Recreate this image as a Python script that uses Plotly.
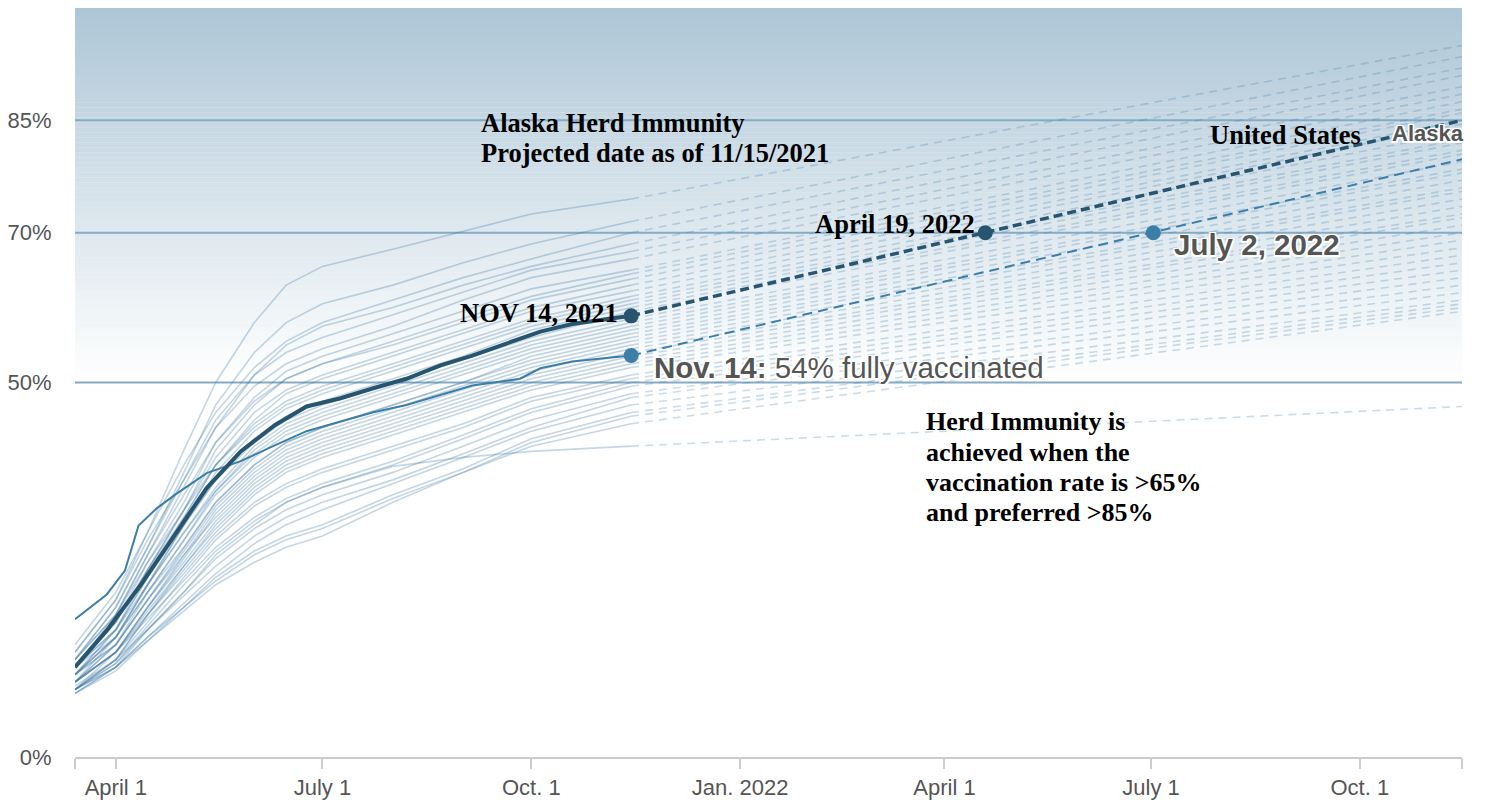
import plotly.graph_objects as go

# ---------------- data ----------------
bg_dates = ["2021-03-14", "2021-04-01", "2021-04-15", "2021-05-01", "2021-05-15", "2021-06-01",
            "2021-06-15", "2021-07-01", "2021-08-01", "2021-09-01", "2021-10-01", "2021-11-14"]
proj_start_date = "2021-11-14"
proj_end_date = "2022-11-15"

# other states, % fully vaccinated at bg_dates
state_values = [
    [14, 21, 30, 41, 50, 58, 63, 65.5, 67.8, 70.2, 72.5, 74.5],
    [13, 20, 28, 38, 47, 54, 58, 60.5, 63, 66, 68.5, 71.5],
    [15, 22, 30, 39, 46, 52, 55.5, 58, 61, 64, 66.5, 70],
    [12, 19, 27, 36, 44, 51, 55, 57.5, 60, 63, 65.5, 68.5],
    [13, 20, 28, 37, 45, 51, 54, 56, 59, 62, 65, 67.5],
    [14, 21, 29, 37, 44, 49.5, 52.5, 54.5, 57.5, 61, 64, 66.5],
    [12, 18, 26, 34, 42, 48, 51.5, 53.5, 56.5, 59.5, 62.5, 65],
    [11, 17, 25, 33, 41, 47, 50.5, 52.5, 55.5, 58.5, 61.5, 64.5],
    [13, 19, 27, 35, 42, 47.5, 50.5, 52.5, 55, 58, 61, 63.8],
    [12, 18, 25, 33, 40, 46, 49, 51, 54, 57, 60, 63],
    [11, 17, 24, 32, 39, 45, 48.5, 50.5, 53.5, 56.5, 59.5, 62.2],
    [12, 18, 25, 32, 39, 44.5, 47.5, 49.5, 52.5, 55.5, 58.5, 61.5],
    [13, 19, 26, 33, 39, 44, 47, 49, 52, 55, 58, 61],
    [11, 16, 23, 31, 38, 43.5, 46.5, 48.5, 51.5, 54.5, 57.5, 60.5],
    [10, 16, 23, 31, 37, 42.5, 45.5, 47.5, 50.5, 53.5, 57, 60],
    [12, 17, 24, 31, 37, 42, 45, 47, 50, 53, 56, 59.5],
    [11, 16, 23, 30, 36, 41.5, 44.5, 46.5, 49.5, 52.5, 55.5, 58.5],
    [10, 15, 22, 29, 35.5, 41, 44, 46, 49, 52, 55, 58],
    [12, 17, 23, 30, 35.5, 40.5, 43.5, 45.5, 48.5, 51.5, 54.5, 57.5],
    [11, 16, 22, 29, 35, 40, 43, 45, 48, 51, 54, 57],
    [10, 15, 21, 28, 34, 39, 42, 44, 47, 50, 53.5, 56.5],
    [12, 16, 22, 28, 34, 39, 42, 44, 47, 50, 53, 56],
    [11, 15, 21, 27.5, 33.5, 38.5, 41.5, 43.5, 46.5, 49.5, 52.5, 55.5],
    [10, 14, 20, 27, 33, 38, 41, 43, 46, 49, 52, 55],
    [9, 14, 20, 26.5, 32.5, 37.5, 40.5, 42.5, 45.5, 48.5, 51.5, 54.5],
    [11, 15, 21, 27, 32, 37, 40, 42, 45, 48, 51, 54],
    [10, 14, 20, 26, 31.5, 36.5, 39.5, 41.5, 44.5, 47.5, 50.5, 53.5],
    [9, 13, 19, 25.5, 31, 36, 39, 41, 44, 47, 50, 53],
    [10, 14, 19.5, 25.5, 30.5, 35.5, 38.5, 40.5, 43.5, 46.5, 49.5, 52.5],
    [9, 13, 19, 25, 30, 35, 38, 40, 43, 46, 49, 52],
    [10, 14, 19, 24.5, 29.5, 34, 36.5, 38.5, 41.5, 44.5, 48, 51],
    [9, 13, 18, 24, 29, 33.5, 36, 38, 41, 44, 47.5, 50.5],
    [10, 14, 18.5, 23.5, 28, 32, 34.5, 36.5, 39.5, 43, 46.5, 50],
    [9, 12.5, 17.5, 23, 27.5, 31.5, 34, 36, 39, 42.5, 46, 49.5],
    [8.5, 12, 17, 22, 26.5, 30.5, 33, 35, 38, 41.5, 45, 48.5],
    [9, 12.5, 17, 21.5, 25.5, 29.5, 32, 34, 37, 40.5, 44, 48],
    [8.5, 12, 16, 20.5, 24.5, 28.5, 31, 33, 36.5, 40, 43.5, 47],
    [9, 12, 16, 20, 24, 27.5, 29.5, 31, 35, 38.5, 42.5, 46],
    [8.5, 11.5, 15.5, 20, 23.5, 27, 29, 30.5, 34.5, 38, 42, 45.5],
    [9, 12, 15.5, 19.5, 23, 26, 28, 29.5, 34, 38, 41.5, 44.5],
    [9.5, 13, 17, 22, 27, 31, 34, 36, 38.8, 40, 40.8, 41.5],
]
# projected value of each state on proj_end_date
state_proj_end = [95, 93.5, 92, 91, 89.5, 88.5, 87.5, 86.5, 86, 85, 84.5, 83.5, 82.5, 82,
                  81, 80.5, 79.5, 78.5, 78, 77, 76, 75.5, 74.5, 73.5, 72.5, 72, 71, 70,
                  69, 68, 67, 66, 65, 64, 63, 62, 61, 60.5, 60, 59.5, 46.8]

us_dates = ["2021-03-14", "2021-03-28", "2021-04-12", "2021-04-27", "2021-05-11", "2021-05-26",
            "2021-06-10", "2021-06-24", "2021-07-09", "2021-07-23", "2021-08-07", "2021-08-22",
            "2021-09-05", "2021-09-20", "2021-10-05", "2021-10-19", "2021-11-03", "2021-11-14"]
us_values = [12.0, 16.9, 23.0, 29.7, 35.9, 40.8, 44.3, 46.8, 47.9, 49.2, 50.5, 52.3,
             53.6, 55.2, 56.8, 57.8, 58.5, 58.9]

ak_dates = ["2021-03-14", "2021-03-28", "2021-04-05", "2021-04-11", "2021-04-19", "2021-04-27",
            "2021-05-11", "2021-05-26", "2021-06-10", "2021-06-24", "2021-07-09", "2021-07-23",
            "2021-08-07", "2021-08-22", "2021-09-05", "2021-09-26", "2021-10-05", "2021-10-19",
            "2021-11-03", "2021-11-14"]
ak_values = [18.4, 21.7, 24.9, 30.9, 33.2, 35.0, 37.9, 39.5, 41.6, 43.5, 44.8, 46.0,
             47.0, 48.3, 49.6, 50.5, 51.9, 52.8, 53.3, 53.6]

us_proj_dates = ["2021-11-14", "2022-04-19", "2022-11-15"]
us_proj_values = [58.9, 70, 85]
ak_proj_dates = ["2021-11-14", "2022-07-02", "2022-11-15"]
ak_proj_values = [53.6, 70, 79.8]

x_tick_vals = ["2021-03-14", "2021-04-01", "2021-07-01", "2021-10-01", "2022-01-01",
               "2022-04-01", "2022-07-01", "2022-10-01", "2022-11-15"]
x_tick_text = ["", "April 1", "July 1", "Oct. 1", "Jan. 2022", "April 1", "July 1", "Oct. 1", ""]
y_tick_vals = [0, 50, 70, 85]
y_tick_text = ["0%", "50%", "70%", "85%"]
grid_levels = [50, 70, 85]

title_lines = ["Alaska Herd Immunity", "Projected date as of 11/15/2021"]
title_line_y = [84.6, 80.6]
note_lines = ["Herd Immunity is", "achieved when the", "vaccination rate is >65%", "and preferred >85%"]
note_line_y = [44.75, 40.7, 36.65, 32.6]

# ---------------- styles ----------------
US_COLOR = "#27546f"
AK_COLOR = "#3b7ea8"
BG_COLOR = "rgba(60,120,165,0.30)"
BG_DASH_COLOR = "rgba(70,130,175,0.28)"
SERIF = "Liberation Serif, Times New Roman, serif"
SANS = "Liberation Sans, Arial, Helvetica, sans-serif"
HALO = "-1.5px -1.5px 0 #fff, 1.5px -1.5px 0 #fff, -1.5px 1.5px 0 #fff, 1.5px 1.5px 0 #fff"

fig = go.Figure()

for vals, end in zip(state_values, state_proj_end):
    fig.add_trace(go.Scatter(x=bg_dates, y=vals, mode="lines",
                             line=dict(color=BG_COLOR, width=1.6),
                             hoverinfo="skip", showlegend=False))
    fig.add_trace(go.Scatter(x=[proj_start_date, proj_end_date], y=[vals[-1], end], mode="lines",
                             line=dict(color=BG_DASH_COLOR, width=1.6, dash="8px,6px"),
                             hoverinfo="skip", showlegend=False))

fig.add_trace(go.Scatter(x=ak_dates, y=ak_values, mode="lines",
                         line=dict(color=AK_COLOR, width=2), showlegend=False, name="Alaska"))
fig.add_trace(go.Scatter(x=ak_proj_dates, y=ak_proj_values, mode="lines",
                         line=dict(color=AK_COLOR, width=2, dash="10px,6px"), showlegend=False))
fig.add_trace(go.Scatter(x=us_dates, y=us_values, mode="lines",
                         line=dict(color=US_COLOR, width=4), showlegend=False, name="United States"))
fig.add_trace(go.Scatter(x=us_proj_dates, y=us_proj_values, mode="lines",
                         line=dict(color=US_COLOR, width=3.5, dash="9px,5px"), showlegend=False))

fig.add_trace(go.Scatter(x=[ak_dates[-1], ak_proj_dates[1]], y=[ak_values[-1], ak_proj_values[1]],
                         mode="markers", marker=dict(color=AK_COLOR, size=15), showlegend=False))
fig.add_trace(go.Scatter(x=[us_dates[-1], us_proj_dates[1]], y=[us_values[-1], us_proj_values[1]],
                         mode="markers", marker=dict(color=US_COLOR, size=15), showlegend=False))

# background gradient (top blue -> white at 50%)
shapes = []
n_strips = 150
top_rgb = (173, 198, 214)
for i in range(n_strips):
    y0 = 50 + 50 * i / n_strips
    y1 = 50 + 50 * (i + 1) / n_strips
    f = (i + 0.5) / n_strips
    c = tuple(round(255 + (t - 255) * f) for t in top_rgb)
    shapes.append(dict(type="rect", xref="paper", yref="y", x0=0, x1=1, y0=y0, y1=y1 + 0.05,
                       fillcolor="rgb(%d,%d,%d)" % c, line=dict(width=0), layer="below"))
for g in grid_levels:
    shapes.append(dict(type="line", xref="paper", yref="y", x0=0, x1=1, y0=g, y1=g,
                       line=dict(color="#86abc4", width=2), layer="below"))

serif_big = dict(family=SERIF, size=26.5, color="#000")
annotations = []
for txt, yv in zip(title_lines, title_line_y):
    annotations.append(dict(x="2021-09-08", y=yv, xref="x", yref="y", xanchor="left", yanchor="middle",
                            text="<b>%s</b>" % txt, showarrow=False, font=serif_big))
for txt, yv in zip(note_lines, note_line_y):
    annotations.append(dict(x="2022-03-23", y=yv, xref="x", yref="y", xanchor="left", yanchor="middle",
                            text="<b>%s</b>" % txt, showarrow=False,
                            font=dict(family=SERIF, size=26, color="#000")))
annotations += [
    dict(x=us_dates[-1], y=us_values[-1], xanchor="right", yanchor="middle", xshift=-11, yshift=3,
         text="<b>NOV 14, 2021</b>", showarrow=False, font=serif_big),
    dict(x=us_proj_dates[1], y=us_proj_values[1], xanchor="right", yanchor="middle", xshift=-8, yshift=9,
         text="<b>April 19, 2022</b>", showarrow=False, font=serif_big),
    dict(x=us_proj_dates[-1], y=us_proj_values[-1], xanchor="right", yanchor="middle", xshift=-99, yshift=-15,
         text="<b>United States</b>", showarrow=False, font=serif_big),
    dict(x=ak_dates[-1], y=ak_values[-1], xanchor="left", yanchor="middle", xshift=21, yshift=-12,
         text="<b>Nov. 14:</b> 54% fully vaccinated", showarrow=False,
         font=dict(family=SANS, size=29.5, color="#555", shadow=HALO)),
    dict(x=ak_proj_dates[1], y=ak_proj_values[1], xanchor="left", yanchor="middle", xshift=19, yshift=-12,
         text="<b>July 2, 2022</b>", showarrow=False,
         font=dict(family=SANS, size=29.5, color="#555", shadow=HALO)),
    dict(x=ak_proj_dates[-1], y=ak_proj_values[-1], xanchor="right", yanchor="middle", xshift=4, yshift=26,
         text="<b>Alaska</b>", showarrow=False,
         font=dict(family=SANS, size=22, color="#555", shadow=HALO)),
]

fig.update_layout(
    width=1487, height=792,
    margin=dict(l=67, r=33, t=0, b=40),
    paper_bgcolor="white", plot_bgcolor="white",
    shapes=shapes, annotations=annotations,
    showlegend=False,
    xaxis=dict(type="date", range=["2021-03-14", "2022-11-15"], tickvals=x_tick_vals, ticktext=x_tick_text,
               showgrid=False, zeroline=False, showline=True, linecolor="#cccccc", linewidth=2,
               ticks="outside", ticklen=10, tickwidth=2, tickcolor="#cccccc",
               tickfont=dict(family=SANS, size=22, color="#555")),
    yaxis=dict(range=[0, 100], tickvals=y_tick_vals, ticktext=y_tick_text, showgrid=False,
               zeroline=False, showline=False, ticks="outside", ticklen=18, tickcolor="rgba(0,0,0,0)",
               tickfont=dict(family=SANS, size=22, color="#555")),
)

fig.write_html("out.html")
